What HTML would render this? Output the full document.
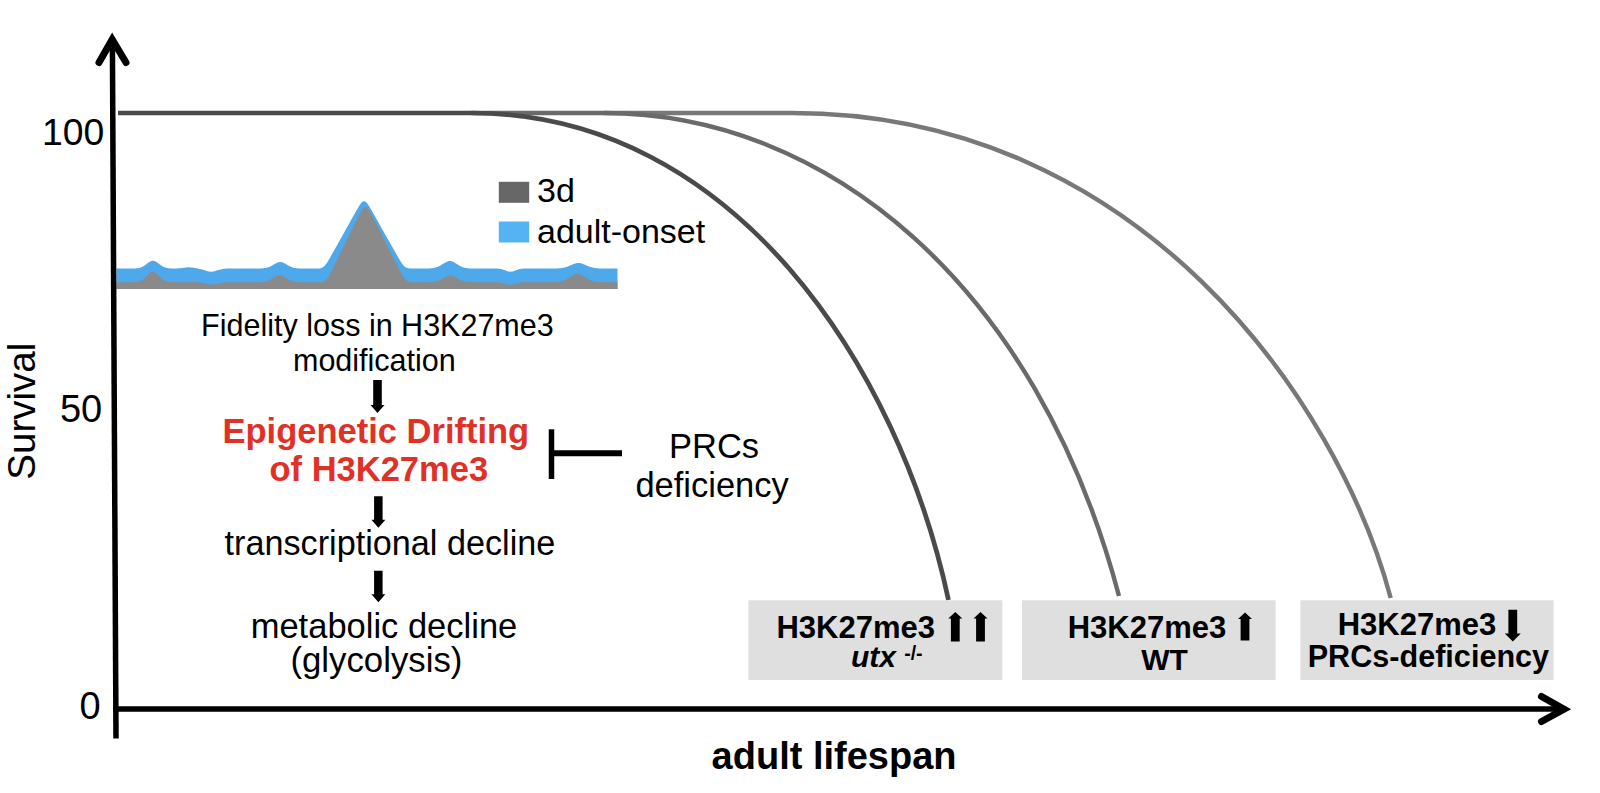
<!DOCTYPE html>
<html><head><meta charset="utf-8"><title>Survival figure</title>
<style>
html,body{margin:0;padding:0;background:#fff;}
body{width:1600px;height:793px;overflow:hidden;}
svg{display:block;font-family:'Liberation Sans', Arial, sans-serif;}
</style></head><body>
<svg width="1600" height="793" viewBox="0 0 1600 793">
<rect width="1600" height="793" fill="#fff"/>
<polygon points="116.5,289 116.5,268.5 117.5,268.5 118.5,268.5 119.5,268.5 120.5,268.5 121.5,268.5 122.5,268.5 123.5,268.5 124.5,268.5 125.5,268.5 126.5,268.5 127.5,268.5 128.5,268.5 129.5,268.5 130.5,268.5 131.5,268.5 132.5,268.5 133.5,268.5 134.5,268.4 135.5,268.4 136.5,268.3 137.5,268.2 138.5,268.1 139.5,267.9 140.5,267.6 141.5,267.2 142.5,266.8 143.5,266.2 144.5,265.6 145.5,264.9 146.5,264.1 147.5,263.3 148.5,262.5 149.5,261.9 150.5,261.3 151.5,260.9 152.5,260.7 153.5,260.7 154.5,261.0 155.5,261.4 156.5,262.0 157.5,262.7 158.5,263.5 159.5,264.2 160.5,265.0 161.5,265.7 162.5,266.3 163.5,266.9 164.5,267.3 165.5,267.6 166.5,267.9 167.5,268.1 168.5,268.2 169.5,268.3 170.5,268.4 171.5,268.4 172.5,268.5 173.5,268.5 174.5,268.5 175.5,268.5 176.5,268.4 177.5,268.4 178.5,268.3 179.5,268.3 180.5,268.2 181.5,268.1 182.5,267.9 183.5,267.8 184.5,267.7 185.5,267.5 186.5,267.4 187.5,267.3 188.5,267.3 189.5,267.3 190.5,267.4 191.5,267.5 192.5,267.6 193.5,267.8 194.5,268.0 195.5,268.1 196.5,268.3 197.5,268.5 198.5,268.7 199.5,268.9 200.5,269.1 201.5,269.4 202.5,269.6 203.5,270.0 204.5,270.3 205.5,270.6 206.5,270.9 207.5,271.2 208.5,271.4 209.5,271.6 210.5,271.7 211.5,271.7 212.5,271.6 213.5,271.4 214.5,271.2 215.5,270.9 216.5,270.6 217.5,270.3 218.5,270.0 219.5,269.7 220.5,269.4 221.5,269.2 222.5,269.0 223.5,268.9 224.5,268.8 225.5,268.7 226.5,268.6 227.5,268.6 228.5,268.5 229.5,268.5 230.5,268.5 231.5,268.5 232.5,268.5 233.5,268.5 234.5,268.5 235.5,268.5 236.5,268.5 237.5,268.5 238.5,268.5 239.5,268.5 240.5,268.5 241.5,268.5 242.5,268.5 243.5,268.5 244.5,268.5 245.5,268.5 246.5,268.5 247.5,268.5 248.5,268.5 249.5,268.5 250.5,268.5 251.5,268.5 252.5,268.5 253.5,268.5 254.5,268.5 255.5,268.5 256.5,268.5 257.5,268.5 258.5,268.5 259.5,268.5 260.5,268.4 261.5,268.4 262.5,268.3 263.5,268.3 264.5,268.1 265.5,268.0 266.5,267.8 267.5,267.5 268.5,267.2 269.5,266.8 270.5,266.4 271.5,265.8 272.5,265.3 273.5,264.7 274.5,264.1 275.5,263.5 276.5,263.0 277.5,262.5 278.5,262.2 279.5,262.0 280.5,262.0 281.5,262.1 282.5,262.4 283.5,262.8 284.5,263.3 285.5,263.8 286.5,264.4 287.5,265.0 288.5,265.6 289.5,266.2 290.5,266.6 291.5,267.1 292.5,267.4 293.5,267.7 294.5,267.9 295.5,268.1 296.5,268.2 297.5,268.3 298.5,268.4 299.5,268.4 300.5,268.5 301.5,268.5 302.5,268.5 303.5,268.5 304.5,268.5 305.5,268.5 306.5,268.5 307.5,268.5 308.5,268.5 309.5,268.5 310.5,268.5 311.5,268.5 312.5,268.5 313.5,268.5 314.5,268.5 315.5,268.5 316.5,268.5 317.5,268.5 318.5,268.4 319.5,268.4 320.5,268.2 321.5,267.9 322.5,267.5 323.5,266.8 324.5,265.9 325.5,264.8 326.5,263.4 327.5,261.9 328.5,260.3 329.5,258.6 330.5,256.9 331.5,255.1 332.5,253.3 333.5,251.5 334.5,249.7 335.5,247.9 336.5,246.2 337.5,244.4 338.5,242.6 339.5,240.8 340.5,239.0 341.5,237.2 342.5,235.4 343.5,233.6 344.5,231.9 345.5,230.1 346.5,228.3 347.5,226.5 348.5,224.7 349.5,222.9 350.5,221.1 351.5,219.3 352.5,217.6 353.5,215.8 354.5,214.0 355.5,212.2 356.5,210.4 357.5,208.7 358.5,206.9 359.5,205.3 360.5,203.9 361.5,202.6 362.5,201.8 363.5,201.3 364.5,201.3 365.5,201.7 366.5,202.6 367.5,203.8 368.5,205.2 369.5,206.8 370.5,208.5 371.5,210.2 372.5,212.0 373.5,213.8 374.5,215.5 375.5,217.3 376.5,219.1 377.5,220.8 378.5,222.6 379.5,224.4 380.5,226.1 381.5,227.9 382.5,229.7 383.5,231.4 384.5,233.2 385.5,235.0 386.5,236.7 387.5,238.5 388.5,240.3 389.5,242.0 390.5,243.8 391.5,245.5 392.5,247.3 393.5,249.1 394.5,250.8 395.5,252.6 396.5,254.4 397.5,256.1 398.5,257.9 399.5,259.6 400.5,261.2 401.5,262.8 402.5,264.2 403.5,265.4 404.5,266.4 405.5,267.2 406.5,267.7 407.5,268.1 408.5,268.3 409.5,268.4 410.5,268.5 411.5,268.5 412.5,268.5 413.5,268.5 414.5,268.5 415.5,268.5 416.5,268.5 417.5,268.5 418.5,268.5 419.5,268.5 420.5,268.5 421.5,268.5 422.5,268.5 423.5,268.5 424.5,268.5 425.5,268.5 426.5,268.5 427.5,268.5 428.5,268.4 429.5,268.4 430.5,268.3 431.5,268.3 432.5,268.2 433.5,268.0 434.5,267.8 435.5,267.6 436.5,267.3 437.5,266.9 438.5,266.5 439.5,266.0 440.5,265.4 441.5,264.8 442.5,264.2 443.5,263.6 444.5,262.9 445.5,262.4 446.5,261.9 447.5,261.5 448.5,261.2 449.5,261.1 450.5,261.1 451.5,261.3 452.5,261.6 453.5,262.1 454.5,262.6 455.5,263.2 456.5,263.8 457.5,264.5 458.5,265.1 459.5,265.7 460.5,266.2 461.5,266.7 462.5,267.1 463.5,267.4 464.5,267.7 465.5,267.9 466.5,268.1 467.5,268.2 468.5,268.3 469.5,268.4 470.5,268.4 471.5,268.4 472.5,268.5 473.5,268.5 474.5,268.5 475.5,268.5 476.5,268.5 477.5,268.5 478.5,268.5 479.5,268.5 480.5,268.5 481.5,268.5 482.5,268.5 483.5,268.5 484.5,268.5 485.5,268.5 486.5,268.5 487.5,268.5 488.5,268.5 489.5,268.5 490.5,268.5 491.5,268.5 492.5,268.5 493.5,268.5 494.5,268.5 495.5,268.5 496.5,268.6 497.5,268.6 498.5,268.7 499.5,268.8 500.5,268.9 501.5,269.1 502.5,269.4 503.5,269.7 504.5,270.1 505.5,270.4 506.5,270.8 507.5,271.2 508.5,271.5 509.5,271.6 510.5,271.7 511.5,271.6 512.5,271.5 513.5,271.2 514.5,270.8 515.5,270.4 516.5,270.1 517.5,269.7 518.5,269.4 519.5,269.1 520.5,268.9 521.5,268.8 522.5,268.7 523.5,268.6 524.5,268.6 525.5,268.5 526.5,268.5 527.5,268.5 528.5,268.5 529.5,268.5 530.5,268.5 531.5,268.5 532.5,268.5 533.5,268.5 534.5,268.5 535.5,268.5 536.5,268.5 537.5,268.5 538.5,268.5 539.5,268.5 540.5,268.5 541.5,268.5 542.5,268.5 543.5,268.5 544.5,268.5 545.5,268.5 546.5,268.5 547.5,268.5 548.5,268.5 549.5,268.5 550.5,268.5 551.5,268.5 552.5,268.5 553.5,268.5 554.5,268.5 555.5,268.4 556.5,268.4 557.5,268.4 558.5,268.3 559.5,268.3 560.5,268.2 561.5,268.1 562.5,267.9 563.5,267.7 564.5,267.5 565.5,267.2 566.5,266.9 567.5,266.5 568.5,266.2 569.5,265.7 570.5,265.3 571.5,264.9 572.5,264.4 573.5,264.0 574.5,263.7 575.5,263.4 576.5,263.2 577.5,263.0 578.5,263.0 579.5,263.1 580.5,263.2 581.5,263.5 582.5,263.8 583.5,264.2 584.5,264.6 585.5,265.0 586.5,265.5 587.5,265.9 588.5,266.3 589.5,266.7 590.5,267.0 591.5,267.3 592.5,267.6 593.5,267.8 594.5,268.0 595.5,268.1 596.5,268.2 597.5,268.3 598.5,268.4 599.5,268.4 600.5,268.4 601.5,268.5 602.5,268.5 603.5,268.5 604.5,268.5 605.5,268.5 606.5,268.5 607.5,268.5 608.5,268.5 609.5,268.5 610.5,268.5 611.5,268.5 612.5,268.5 613.5,268.5 614.5,268.5 615.5,268.5 616.5,268.5 617.5,268.5 617.5,268.5 617.5,289" fill="#4da9ec"/>
<polygon points="116.5,289 116.5,282.2 117.5,282.2 118.5,282.2 119.5,282.2 120.5,282.2 121.5,282.2 122.5,282.2 123.5,282.2 124.5,282.2 125.5,282.2 126.5,282.2 127.5,282.2 128.5,282.2 129.5,282.2 130.5,282.2 131.5,282.2 132.5,282.2 133.5,282.1 134.5,282.1 135.5,282.0 136.5,281.9 137.5,281.8 138.5,281.6 139.5,281.3 140.5,281.0 141.5,280.5 142.5,279.9 143.5,279.1 144.5,278.3 145.5,277.3 146.5,276.3 147.5,275.2 148.5,274.2 149.5,273.3 150.5,272.5 151.5,272.0 152.5,271.7 153.5,271.8 154.5,272.1 155.5,272.6 156.5,273.4 157.5,274.4 158.5,275.4 159.5,276.5 160.5,277.5 161.5,278.4 162.5,279.3 163.5,280.0 164.5,280.6 165.5,281.0 166.5,281.4 167.5,281.7 168.5,281.8 169.5,282.0 170.5,282.1 171.5,282.1 172.5,282.1 173.5,282.2 174.5,282.2 175.5,282.2 176.5,282.2 177.5,282.2 178.5,282.2 179.5,282.2 180.5,282.2 181.5,282.2 182.5,282.2 183.5,282.2 184.5,282.2 185.5,282.2 186.5,282.2 187.5,282.2 188.5,282.2 189.5,282.2 190.5,282.2 191.5,282.2 192.5,282.2 193.5,282.2 194.5,282.2 195.5,282.2 196.5,282.3 197.5,282.3 198.5,282.3 199.5,282.4 200.5,282.5 201.5,282.6 202.5,282.7 203.5,282.9 204.5,283.0 205.5,283.3 206.5,283.5 207.5,283.7 208.5,283.9 209.5,284.1 210.5,284.3 211.5,284.4 212.5,284.5 213.5,284.5 214.5,284.4 215.5,284.3 216.5,284.1 217.5,283.9 218.5,283.7 219.5,283.5 220.5,283.3 221.5,283.0 222.5,282.9 223.5,282.7 224.5,282.6 225.5,282.5 226.5,282.4 227.5,282.3 228.5,282.3 229.5,282.3 230.5,282.2 231.5,282.2 232.5,282.2 233.5,282.2 234.5,282.2 235.5,282.2 236.5,282.2 237.5,282.2 238.5,282.2 239.5,282.2 240.5,282.2 241.5,282.2 242.5,282.2 243.5,282.2 244.5,282.2 245.5,282.2 246.5,282.2 247.5,282.2 248.5,282.2 249.5,282.2 250.5,282.2 251.5,282.2 252.5,282.2 253.5,282.2 254.5,282.2 255.5,282.2 256.5,282.2 257.5,282.2 258.5,282.2 259.5,282.1 260.5,282.1 261.5,282.1 262.5,282.0 263.5,281.9 264.5,281.7 265.5,281.5 266.5,281.3 267.5,281.0 268.5,280.6 269.5,280.1 270.5,279.6 271.5,279.0 272.5,278.3 273.5,277.7 274.5,277.1 275.5,276.5 276.5,276.0 277.5,275.6 278.5,275.3 279.5,275.2 280.5,275.3 281.5,275.5 282.5,275.9 283.5,276.4 284.5,276.9 285.5,277.6 286.5,278.2 287.5,278.9 288.5,279.5 289.5,280.0 290.5,280.5 291.5,280.9 292.5,281.2 293.5,281.5 294.5,281.7 295.5,281.8 296.5,282.0 297.5,282.0 298.5,282.1 299.5,282.1 300.5,282.2 301.5,282.2 302.5,282.2 303.5,282.2 304.5,282.2 305.5,282.2 306.5,282.2 307.5,282.2 308.5,282.2 309.5,282.2 310.5,282.2 311.5,282.2 312.5,282.2 313.5,282.2 314.5,282.2 315.5,282.2 316.5,282.2 317.5,282.2 318.5,282.2 319.5,282.2 320.5,282.1 321.5,282.0 322.5,281.9 323.5,281.5 324.5,281.0 325.5,280.3 326.5,279.2 327.5,278.0 328.5,276.4 329.5,274.7 330.5,272.9 331.5,270.9 332.5,268.9 333.5,266.9 334.5,264.9 335.5,262.9 336.5,260.8 337.5,258.8 338.5,256.8 339.5,254.7 340.5,252.7 341.5,250.6 342.5,248.6 343.5,246.6 344.5,244.5 345.5,242.5 346.5,240.5 347.5,238.4 348.5,236.4 349.5,234.4 350.5,232.3 351.5,230.3 352.5,228.3 353.5,226.2 354.5,224.2 355.5,222.1 356.5,220.1 357.5,218.1 358.5,216.1 359.5,214.1 360.5,212.2 361.5,210.5 362.5,209.0 363.5,207.8 364.5,207.1 365.5,206.9 366.5,207.3 367.5,208.1 368.5,209.3 369.5,210.9 370.5,212.6 371.5,214.5 372.5,216.4 373.5,218.4 374.5,220.4 375.5,222.3 376.5,224.3 377.5,226.3 378.5,228.3 379.5,230.2 380.5,232.2 381.5,234.2 382.5,236.2 383.5,238.2 384.5,240.1 385.5,242.1 386.5,244.1 387.5,246.1 388.5,248.0 389.5,250.0 390.5,252.0 391.5,254.0 392.5,255.9 393.5,257.9 394.5,259.9 395.5,261.9 396.5,263.8 397.5,265.8 398.5,267.8 399.5,269.7 400.5,271.7 401.5,273.5 402.5,275.3 403.5,276.9 404.5,278.4 405.5,279.6 406.5,280.5 407.5,281.2 408.5,281.6 409.5,281.9 410.5,282.1 411.5,282.1 412.5,282.2 413.5,282.2 414.5,282.2 415.5,282.2 416.5,282.2 417.5,282.2 418.5,282.2 419.5,282.2 420.5,282.2 421.5,282.2 422.5,282.2 423.5,282.2 424.5,282.2 425.5,282.2 426.5,282.2 427.5,282.2 428.5,282.1 429.5,282.1 430.5,282.1 431.5,282.0 432.5,281.9 433.5,281.8 434.5,281.7 435.5,281.5 436.5,281.3 437.5,281.0 438.5,280.6 439.5,280.2 440.5,279.8 441.5,279.3 442.5,278.7 443.5,278.1 444.5,277.6 445.5,277.1 446.5,276.6 447.5,276.2 448.5,275.9 449.5,275.7 450.5,275.7 451.5,275.8 452.5,276.0 453.5,276.3 454.5,276.8 455.5,277.3 456.5,277.8 457.5,278.4 458.5,278.9 459.5,279.5 460.5,280.0 461.5,280.4 462.5,280.8 463.5,281.1 464.5,281.4 465.5,281.6 466.5,281.8 467.5,281.9 468.5,282.0 469.5,282.0 470.5,282.1 471.5,282.1 472.5,282.2 473.5,282.2 474.5,282.2 475.5,282.2 476.5,282.2 477.5,282.2 478.5,282.2 479.5,282.2 480.5,282.2 481.5,282.2 482.5,282.2 483.5,282.2 484.5,282.2 485.5,282.2 486.5,282.2 487.5,282.2 488.5,282.2 489.5,282.2 490.5,282.2 491.5,282.2 492.5,282.2 493.5,282.2 494.5,282.2 495.5,282.2 496.5,282.3 497.5,282.3 498.5,282.3 499.5,282.4 500.5,282.6 501.5,282.7 502.5,282.9 503.5,283.2 504.5,283.5 505.5,283.8 506.5,284.1 507.5,284.4 508.5,284.6 509.5,284.7 510.5,284.8 511.5,284.7 512.5,284.6 513.5,284.4 514.5,284.1 515.5,283.8 516.5,283.5 517.5,283.2 518.5,282.9 519.5,282.7 520.5,282.6 521.5,282.4 522.5,282.3 523.5,282.3 524.5,282.3 525.5,282.2 526.5,282.2 527.5,282.2 528.5,282.2 529.5,282.2 530.5,282.2 531.5,282.2 532.5,282.2 533.5,282.2 534.5,282.2 535.5,282.2 536.5,282.2 537.5,282.2 538.5,282.2 539.5,282.2 540.5,282.2 541.5,282.2 542.5,282.2 543.5,282.2 544.5,282.2 545.5,282.2 546.5,282.2 547.5,282.2 548.5,282.2 549.5,282.2 550.5,282.2 551.5,282.2 552.5,282.2 553.5,282.1 554.5,282.1 555.5,282.1 556.5,282.0 557.5,282.0 558.5,281.9 559.5,281.7 560.5,281.5 561.5,281.3 562.5,281.0 563.5,280.7 564.5,280.3 565.5,279.8 566.5,279.3 567.5,278.7 568.5,278.1 569.5,277.4 570.5,276.7 571.5,276.0 572.5,275.4 573.5,274.8 574.5,274.4 575.5,274.0 576.5,273.8 577.5,273.7 578.5,273.8 579.5,274.0 580.5,274.4 581.5,274.8 582.5,275.4 583.5,276.0 584.5,276.7 585.5,277.4 586.5,278.1 587.5,278.7 588.5,279.3 589.5,279.8 590.5,280.3 591.5,280.7 592.5,281.0 593.5,281.3 594.5,281.5 595.5,281.7 596.5,281.9 597.5,282.0 598.5,282.0 599.5,282.1 600.5,282.1 601.5,282.1 602.5,282.2 603.5,282.2 604.5,282.2 605.5,282.2 606.5,282.2 607.5,282.2 608.5,282.2 609.5,282.2 610.5,282.2 611.5,282.2 612.5,282.2 613.5,282.2 614.5,282.2 615.5,282.2 616.5,282.2 617.5,282.2 617.5,282.2 617.5,289" fill="#8a8a8a"/>
<path d="M603.9,113 H792.1 C1139.2,113.0 1338.4,401.6 1390.7,598.0" fill="none" stroke="#787878" stroke-width="4.4"/>
<path d="M471.4,113 H603.9 C824.9,113.0 1036.1,282.9 1119.0,596.0" fill="none" stroke="#6a6a6a" stroke-width="4.4"/>
<path d="M118,113 H471.4 C734.1,113.0 899.1,368.0 948.5,600.0" fill="none" stroke="#4a4a4a" stroke-width="4.7"/>
<rect x="748.4" y="600.3" width="253.9" height="79.7" fill="#dfdfdf"/>
<rect x="1022" y="600.3" width="253.6" height="79.7" fill="#dfdfdf"/>
<rect x="1300.4" y="600.3" width="253.2" height="79.7" fill="#dfdfdf"/>
<line x1="112.4" y1="44" x2="116" y2="738.5" stroke="#000" stroke-width="5.5"/>
<polyline points="99,62.5 112.2,39.5 126,62.5" fill="none" stroke="#000" stroke-width="7" stroke-linecap="round" stroke-linejoin="miter"/>
<line x1="113" y1="709" x2="1566" y2="709" stroke="#000" stroke-width="5.5"/>
<polyline points="1541.5,696.5 1564,709.2 1541.5,721.5" fill="none" stroke="#000" stroke-width="7" stroke-linecap="round"/>
<rect x="498.8" y="181.8" width="30.4" height="21" fill="#676767"/>
<rect x="498.8" y="221.5" width="30.4" height="21" fill="#56b3f3"/>
<line x1="551.5" y1="429.3" x2="551.5" y2="479" stroke="#000" stroke-width="5.5"/>
<line x1="551.5" y1="453.3" x2="622" y2="453.3" stroke="#000" stroke-width="6"/>
<polygon points="373.2,380 381.8,380 381.8,405 384.5,405 377.5,413 370.5,405 373.2,405" fill="#000"/>
<polygon points="374.1,496.3 382.6,496.3 382.6,519.8 385.4,519.8 378.4,527.8 371.4,519.8 374.1,519.8" fill="#000"/>
<polygon points="374.1,570.7 382.6,570.7 382.6,594.3 385.4,594.3 378.4,602.3 371.4,594.3 374.1,594.3" fill="#000"/>
<polygon points="955.3,612 962.3,618.5 959.7,618.5 959.7,641.4 950.9,641.4 950.9,618.5 948.3,618.5" fill="#000"/>
<polygon points="980.5,612 987.5,618.5 984.9,618.5 984.9,641.4 976.1,641.4 976.1,618.5 973.5,618.5" fill="#000"/>
<polygon points="1245.0,612.5 1252.0,619.0 1249.4,619.0 1249.4,640.6 1240.6,640.6 1240.6,619.0 1238.0,619.0" fill="#000"/>
<polygon points="1508.4,609.7 1517.2,609.7 1517.2,633.6 1520.8,633.6 1512.8,641.6 1504.8,633.6 1508.4,633.6" fill="#000"/>
<text x="42.0" y="145.0" font-size="37.3" font-weight="normal" font-style="normal" fill="#000">100</text>
<text x="59.9" y="422.3" font-size="38" font-weight="normal" font-style="normal" fill="#000">50</text>
<text x="79.5" y="718.5" font-size="38" font-weight="normal" font-style="normal" fill="#000">0</text>
<text x="537.1" y="202.3" font-size="34" font-weight="normal" font-style="normal" fill="#000">3d</text>
<text x="537.0" y="243.0" font-size="34" font-weight="normal" font-style="normal" fill="#000">adult-onset</text>
<text x="201.1" y="335.7" font-size="30.5" font-weight="normal" font-style="normal" fill="#000">Fidelity loss in H3K27me3</text>
<text x="293.0" y="370.5" font-size="30.5" font-weight="normal" font-style="normal" fill="#000">modification</text>
<text x="222.5" y="442.8" font-size="34.5" font-weight="bold" font-style="normal" fill="#e03127">Epigenetic Drifting</text>
<text x="269.5" y="481.0" font-size="34.5" font-weight="bold" font-style="normal" fill="#e03127">of H3K27me3</text>
<text x="224.6" y="555.0" font-size="34.2" font-weight="normal" font-style="normal" fill="#000">transcriptional decline</text>
<text x="250.7" y="637.6" font-size="34.5" font-weight="normal" font-style="normal" fill="#000">metabolic decline</text>
<text x="290.4" y="672.0" font-size="34.8" font-weight="normal" font-style="normal" fill="#000">(glycolysis)</text>
<text x="669.0" y="457.7" font-size="34.5" font-weight="normal" font-style="normal" fill="#000">PRCs</text>
<text x="635.4" y="496.6" font-size="34.5" font-weight="normal" font-style="normal" fill="#000">deficiency</text>
<text x="711.6" y="769.0" font-size="38" font-weight="bold" font-style="normal" fill="#000">adult lifespan</text>
<text x="776.4" y="637.8" font-size="31" font-weight="bold" font-style="normal" fill="#000">H3K27me3</text>
<text x="851.0" y="667.0" font-size="30" font-weight="bold" font-style="italic" fill="#000">utx</text>
<text x="904.2" y="659.5" font-size="19.5" font-weight="bold" font-style="normal" fill="#000">-/-</text>
<text x="1067.7" y="637.8" font-size="31" font-weight="bold" font-style="normal" fill="#000">H3K27me3</text>
<text x="1141.3" y="669.7" font-size="30" font-weight="bold" font-style="normal" fill="#000">WT</text>
<text x="1337.7" y="635.0" font-size="31" font-weight="bold" font-style="normal" fill="#000">H3K27me3</text>
<text x="1307.7" y="666.9" font-size="30.6" font-weight="bold" font-style="normal" fill="#000">PRCs-deficiency</text>
<text transform="translate(35.4,479.7) rotate(-90)" font-size="38.5" fill="#000">Survival</text>
</svg>
</body></html>
